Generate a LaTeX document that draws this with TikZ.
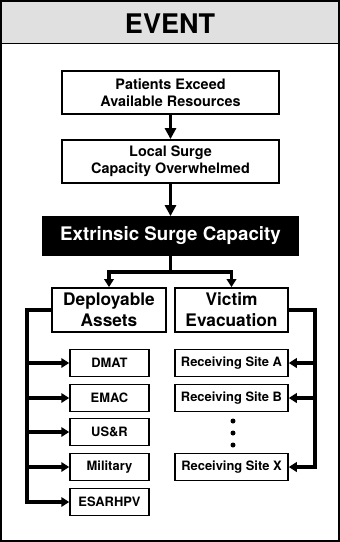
\documentclass[tikz,border=0pt]{standalone}
\usepackage{fontspec}
\setmainfont{TeX Gyre Heros}
\usetikzlibrary{arrows.meta}
\tikzset{
  box/.style={draw,line width=1.8pt,fill=white,align=center,inner sep=0pt,
    font=\bfseries\fontsize{14.4}{17}\selectfont},
  bigbox/.style={box,minimum width=217pt,minimum height=43pt},
  branchbox/.style={box,minimum width=114pt,minimum height=44pt,
    font=\bfseries\fontsize{17.3}{21}\selectfont},
  smallbox/.style={box,line width=1.5pt,minimum height=27pt,
    font=\bfseries\fontsize{12.9}{15}\selectfont},
  arr/.style={->,line width=3.8pt},
  bus/.style={line width=3.8pt,line join=miter},
  tip/.style={>={Triangle[length=8pt,width=9.5pt]}}
}
\begin{document}
\begin{tikzpicture}[x=1pt,y=-1pt,>={Triangle[length=11pt,width=11pt]}]
% Frame
\useasboundingbox (0,0) rectangle (340,542);
\fill[black!12] (1,1) rectangle (339,43.5);
\draw[line width=2pt] (1,1) rectangle (339,541);
\draw[line width=1.8pt] (1,43.5) -- (339,43.5);
\node[font=\bfseries\fontsize{27}{30}\selectfont] (event) at (170,24) {EVENT};

% Chain
\node[bigbox] (exceed) at (170.5,92.5) {Patients Exceed\\Available Resources};
\node[bigbox] (local) at (170.5,161.5) {Local Surge\\Capacity Overwhelmed};
\node[box,fill=black,text=white,minimum width=255pt,minimum height=38pt,
  font=\bfseries\fontsize{18.7}{21}\selectfont] (extr) at (170.5,236) {Extrinsic Surge Capacity};
\draw[arr] (exceed) -- (local);
\draw[arr] (local) -- (extr);

% Branches
\node[branchbox] (deploy) at (109,310) {Deployable\\Assets};
\node[branchbox,minimum width=113pt] (evac) at (231.5,310) {Victim\\Evacuation};
\coordinate (split) at (170.5,272);
\draw[bus] (extr) -- (split);
\draw[arr,line join=miter,tip] (split) -| (deploy);
\draw[arr,line join=miter,tip] (split) -| (evac);

% Assets
\foreach \n/\y/\t in {dmat/363/DMAT,emac/398/EMAC,usr/432/US\&R,mil/467/Military,esar/502/ESARHPV}
  \node[smallbox,minimum width=79pt] (\n) at (109.5,\y) {\t};
\coordinate (busL) at (27,310);
\draw[bus,->,tip] (deploy.west) -- (busL) |- (esar.west);
\foreach \n in {dmat,emac,usr,mil}
  \draw[arr,tip] (busL |- \n.west) -- (\n.west);

% Receiving sites
\foreach \n/\y/\t in {siteA/363/A,siteB/398/B,siteX/467/X}
  \node[smallbox,minimum width=113pt] (\n) at (231.5,\y) {Receiving Site \t};
\coordinate (busR) at (315,310);
\draw[bus,->,tip] (evac.east) -- (busR) |- (siteX.east);
\foreach \n in {siteA,siteB}
  \draw[arr,tip] (busR |- \n.east) -- (\n.east);

% Dots
\foreach \y in {421,433,445}
  \fill (233,\y) circle (2.5);
\end{tikzpicture}
\end{document}
